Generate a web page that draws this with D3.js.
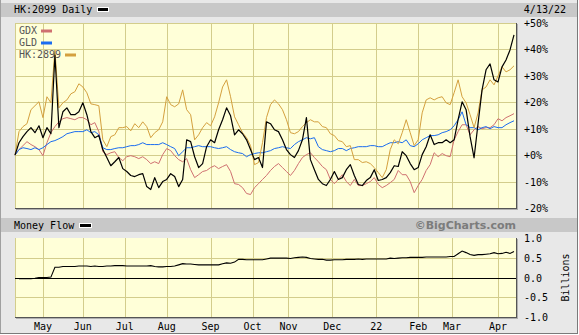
<!DOCTYPE html>
<html>
<head>
<meta charset="utf-8">
<script src="https://cdn.jsdelivr.net/npm/d3@7"></script>
<style>
  body { margin: 0; background: #ffffff; }
  text { font-family: "DejaVu Sans Mono", monospace; font-size: 10px; }
</style>
</head>
<body>
<div id="chart"></div>
<script>
// Trading day index for each sample (every 2nd session)
var days = d3.range(0, 251, 2);

// Month labels and the trading day they fall on
var monthLabels = ["May", "Jun", "Jul", "Aug", "Sep", "Oct", "Nov", "Dec", "22", "Feb", "Mar", "Apr"];
var monthDays = [14, 34, 55, 76, 98, 119, 137, 159, 181, 202, 219, 242];

var pctTicks = [50, 40, 30, 20, 10, 0, -10, -20];
var flowTicks = [1.0, 0.5, 0.0, -0.5, -1.0];

// % change, HK:2099
var hk2099 = [0, 4.7, 7, 8.9, 10.4, 8.5, 11.1, 6.6, 10.4, 8.1,
    37.9, 10.4, 16.4, 17.9, 15.3, 15.3, 16.4, 19.8, 15.3, 8.9,
    6.6, 7.4, 2.1, -0.9, -4, -2.5, -0.9, -5.1, -6.2, -7.7,
    -8.1, -7.4, -7, -11.9, -13, -8.5, -12.3, -10, -9.2, -7,
    -8.1, -11.9, -9.2, 5.8, 5.1, -0.6, -4.7, -3.2, 3.2, 5.8,
    4.7, 9.6, 13.4, 17.9, 14.9, 7.7, 9.6, 8.1, 5.8, 2.1,
    -1.7, -0.9, -4.7, 12.6, 11.9, 9.6, 8.9, 5.8, 2.1, 0.2,
    -0.9, 1.7, 5.8, 14.2, -1.7, -5.5, -9.2, -10.8, -11.5, -9.2,
    -6.2, -9.2, -8.5, -5.5, -3.6, -7.7, -11.1, -11.5, -9.6, -8.5,
    -5.5, -9.6, -9.2, -8.5, -6.6, -4, -4.3, 1.3, -0.2, -3.2,
    -5.5, -4.7, 0.2, 3.2, 7.7, 4, 4.7, 4.7, 5.8, 4.7,
    5.8, 13.4, 20.2, 17.2, 7, -1, 12, 24.7, 32.3, 34.5,
    28.5, 27.7, 33.4, 36, 39.8, 45.5];

// % change, GDX
var gdx = [0, 2.1, 3.6, 5.1, 4, 3.2, 2.1, -0.2, 4.7, 8.5,
    10.8, 12.6, 13.8, 14.2, 13.8, 13.4, 14.2, 14.2, 13.4, 11.5,
    12.3, 8.9, 1.3, 0.2, 0.9, 1.3, -0.9, -2.1, -0.6, -0.2,
    -0.6, -1.3, -0.6, -1.7, -3.2, -2.5, -3.2, 0.2, 2.5, 1.7,
    -0.2, -1.7, -2.5, -1.3, -5.5, -8.5, -7.4, -6.2, -5.8, -4.7,
    -4, -5.1, -4.3, -3.6, -6.2, -10.8, -11.1, -12.3, -14.5, -14.9,
    -12.3, -10.8, -9.2, -7.7, -5.8, -4.3, -3.2, -4.7, -6.2, -7.7,
    -5.8, -3.2, -0.9, 0.2, 0.9, -0.9, -2.5, -4.3, -5.5, -9.2,
    -10.8, -9.2, -7.4, -10, -11.5, -9.2, -11.5, -11.5, -10.8, -10,
    -8.5, -11.1, -12.3, -11.5, -10.4, -9.2, -5.8, -7.4, -7.4, -10,
    -14.2, -11.5, -9.2, -5.8, -3.6, 0.9, -0.6, 0.6, -0.2, -0.6,
    5.8, 8.9, 11.5, 11.5, 7.7, 9.6, 10.8, 10, 10.4, 10.4,
    11.5, 13.8, 13, 14.2, 14.9, 15.7];

// % change, GLD
var gld = [0, 2.1, 2.8, 2.5, 2.1, 2.8, 2.1, 2.8, 4, 5.1,
    5.5, 6.2, 7, 8.1, 8.5, 8.9, 8.9, 8.9, 9.6, 8.5,
    8.9, 7.7, 2.8, 2.1, 2.1, 2.5, 2.8, 2.8, 3.2, 3.6,
    3.6, 4, 4.7, 4, 4, 4, 4, 4.7, 4, 3.2,
    2.5, -0.2, 1.3, 2.8, 2.8, 3.2, 3.6, 3.2, 3.2, 3.2,
    2.8, 2.5, 2.8, 3.2, 2.1, 1.3, 0.9, 0.6, -0.6, 0.2,
    0.6, 0.9, 0.9, 1.3, 1.7, 2.5, 2.8, 3.2, 2.8, 2.5,
    4, 5.1, 5.8, 6.6, 6.2, 6.6, 3.2, 2.1, 1.7, 1.3,
    1.7, 2.5, 2.5, 1.7, 2.5, 2.8, 3.2, 3.2, 3.2, 3.6,
    3.6, 3.2, 3.2, 4, 4.7, 4.7, 5.1, 4.7, 5.8, 3.6,
    3.2, 4.3, 5.8, 6.6, 7.4, 7.4, 7.7, 8.5, 8.9, 9.6,
    11.1, 13.4, 16.4, 11.5, 10.4, 10.4, 9.6, 10.4, 10.8, 10,
    10.8, 10.4, 10.4, 11.5, 12.3, 13];

// % change, HK:2899
var hk2899 = [0, 8.9, 10.8, 11.9, 17.2, 18.7, 20.2, 14.2, 22.1, 19.8,
    39.8, 17.9, 19.8, 20.9, 23.2, 24, 27, 25.8, 23.6, 19.4,
    19.1, 18.7, 5.8, 3.2, 7, 7.7, 10.4, 10.4, 10.8, 9.2,
    11.9, 10.4, 12.6, 10.8, 6.6, 8.5, 9.6, 12.6, 22.1, 19.1,
    18.3, 19.4, 24.7, 17.2, 15.3, 5.8, 7.7, 10.4, 12.3, 11.1,
    14.5, 19.8, 25.8, 28.5, 22.1, 14.5, 11.5, 8.5, 6.6, 3.6,
    -3.6, -2.8, 4.7, 14.2, 19.1, 20.9, 19.4, 17.2, 13.4, 8.5,
    8.1, 8.9, 10.8, 12.3, 13.4, 12.6, 12.6, 10.8, 10.4, 8.1,
    7.4, 5.5, 5.1, 3.2, 3.6, -1.7, -1.7, -2.8, -2.5, -3.2,
    -4.7, -6.6, -8.5, -5.5, 2.1, 5.8, 4.3, 8.5, 13.4, 8.5,
    3.6, 5.8, 16, 20.9, 21.7, 20.9, 21.7, 22.1, 19.8, 19.1,
    23.6, 28.5, 22.1, 19.8, 15.3, 10.4, 16, 24.7, 25.8, 28.5,
    26.6, 30, 33.4, 31.5, 32.3, 33.8];

// Money flow, billions
var moneyFlow = [null, -0.03, -0.03, -0.03, -0.03, -0.02, 0, 0, 0, 0.01,
    0.26, 0.26, 0.28, 0.28, 0.28, 0.28, 0.29, 0.29, 0.29, 0.28,
    0.29, 0.28, 0.28, 0.29, 0.29, 0.3, 0.3, 0.3, 0.29, 0.29,
    0.29, 0.29, 0.29, 0.29, 0.3, 0.28, 0.27, 0.27, 0.28, 0.28,
    0.29, 0.32, 0.35, 0.34, 0.34, 0.33, 0.32, 0.32, 0.32, 0.32,
    0.32, 0.32, 0.35, 0.37, 0.36, 0.39, 0.46, 0.46, 0.45, 0.45,
    0.45, 0.45, 0.45, 0.47, 0.49, 0.49, 0.49, 0.49, 0.49, 0.48,
    0.5, 0.51, 0.52, 0.51, 0.48, 0.47, 0.46, 0.46, 0.44, 0.44,
    0.45, 0.45, 0.45, 0.46, 0.46, 0.46, 0.47, 0.46, 0.47, 0.47,
    0.47, 0.47, 0.47, 0.47, 0.49, 0.48, 0.49, 0.5, 0.5, 0.51,
    0.51, 0.51, 0.51, 0.52, 0.52, 0.52, 0.52, 0.52, 0.52, 0.53,
    0.53, 0.6, 0.67, 0.63, 0.58, 0.56, 0.58, 0.58, 0.59, 0.6,
    0.63, 0.6, 0.61, 0.64, 0.61, 0.66];

var series = [
    { name: "GDX", values: gdx, color: "#cf7070", width: 1 },
    { name: "GLD", values: gld, color: "#1a6cf0", width: 1 },
    { name: "HK:2899", values: hk2899, color: "#d4a03e", width: 1 },
    { name: "HK:2099", values: hk2099, color: "#000000", width: 1.2 }
];

var width = 579, height = 335;
var plotLeft = 15, plotRight = 516;
var top1 = 23, bottom1 = 208;
var top2 = 238, bottom2 = 317;
var gridColor = "#d3cd8c";
var plotFill = "#ffffd8";

var svg = d3.select("#chart").append("svg")
    .attr("width", width)
    .attr("height", height);

// frame
svg.append("rect").attr("x", 0).attr("y", 0).attr("width", 578).attr("height", 334).attr("fill", "#e8e8e8");
svg.append("line").attr("x1", 0.5).attr("x2", 0.5).attr("y1", 0).attr("y2", 334).attr("stroke", "#a0a0a0");
svg.append("line").attr("x1", 577.5).attr("x2", 577.5).attr("y1", 0).attr("y2", 334).attr("stroke", "#7a7a7a");
svg.append("line").attr("x1", 0).attr("x2", 578).attr("y1", 333.5).attr("y2", 333.5).attr("stroke", "#7a7a7a");

// header bars
svg.append("rect").attr("x", 1).attr("y", 3).attr("width", 576).attr("height", 14).attr("fill", "#c8c8c8");
svg.append("rect").attr("x", 1).attr("y", 218).attr("width", 576).attr("height", 14).attr("fill", "#c8c8c8");

svg.append("text").attr("x", 14).attr("y", 13).text("HK:2099 Daily");
svg.append("rect").attr("x", 97.5).attr("y", 7.5).attr("width", 11).attr("height", 4)
    .attr("fill", "#000").attr("stroke", "#fff");
svg.append("text").attr("x", 566).attr("y", 13).attr("text-anchor", "end").text("4/13/22");

svg.append("text").attr("x", 14).attr("y", 229).text("Money Flow");
svg.append("rect").attr("x", 79.5).attr("y", 223.5).attr("width", 12).attr("height", 4)
    .attr("fill", "#000").attr("stroke", "#fff");
svg.append("text").attr("x", 516).attr("y", 229).attr("text-anchor", "end")
    .style("font-family", "'DejaVu Sans', sans-serif").style("font-weight", "bold")
    .style("font-size", "11px").attr("fill", "#7c7c7c").text("\u00A9BigCharts.com");

// scales
var x = d3.scaleLinear().domain([0, 250]).range([plotLeft, 514]);
var y1 = d3.scaleLinear().domain([-20, 50]).range([bottom1, top1]);
var y2 = d3.scaleLinear().domain([-1, 1]).range([bottom2, top2]);

function drawPanel(top, bottom, yScale, ticks) {
    var g = svg.append("g");
    g.append("rect").attr("x", plotLeft).attr("y", top)
        .attr("width", plotRight - plotLeft).attr("height", bottom - top).attr("fill", plotFill);
    // horizontal grid
    g.selectAll(".hg").data(ticks).enter().append("line")
        .attr("x1", plotLeft).attr("x2", plotRight)
        .attr("y1", d => Math.round(yScale(d)) + 0.5).attr("y2", d => Math.round(yScale(d)) + 0.5)
        .attr("stroke", gridColor);
    // vertical grid
    g.selectAll(".vg").data(monthDays).enter().append("line")
        .attr("x1", d => Math.round(x(d)) + 0.5).attr("x2", d => Math.round(x(d)) + 0.5)
        .attr("y1", top).attr("y2", bottom)
        .attr("stroke", gridColor);
    // left edge
    g.append("line").attr("x1", plotLeft + 0.5).attr("x2", plotLeft + 0.5)
        .attr("y1", top).attr("y2", bottom).attr("stroke", gridColor);
    return g;
}

function drawFrame(top, bottom) {
    svg.append("line").attr("x1", plotLeft).attr("x2", plotRight + 1)
        .attr("y1", bottom + 0.5).attr("y2", bottom + 0.5).attr("stroke", "#555");
    svg.append("line").attr("x1", plotRight + 0.5).attr("x2", plotRight + 0.5)
        .attr("y1", top).attr("y2", bottom + 1).attr("stroke", "#555");
    svg.append("line").attr("x1", plotLeft + 1).attr("x2", plotRight + 2)
        .attr("y1", bottom + 1.5).attr("y2", bottom + 1.5).attr("stroke", "#b0b0b0");
    svg.append("line").attr("x1", plotRight + 1.5).attr("x2", plotRight + 1.5)
        .attr("y1", top + 1).attr("y2", bottom + 2).attr("stroke", "#b0b0b0");
}

// price panel
var g1 = drawPanel(top1, bottom1, y1, pctTicks);

var line1 = d3.line()
    .x((d, i) => x(days[i]))
    .y(d => y1(d));

series.forEach(function (s) {
    g1.append("path")
        .datum(s.values)
        .attr("d", line1)
        .attr("fill", "none")
        .attr("stroke", s.color)
        .attr("stroke-width", s.width)
        .attr("stroke-linejoin", "round");
});
drawFrame(top1, bottom1);

// legend
var legend = series.slice(0, 3);
var legendX = [41, 41, 65];
legend.forEach(function (s, i) {
    var by = 34 + i * 12;
    svg.append("text").attr("x", 19).attr("y", by).attr("fill", "#555").text(s.name);
    svg.append("rect").attr("x", legendX[i]).attr("y", by - 4.5)
        .attr("width", 11).attr("height", 3).attr("fill", s.color);
});

// y axis labels, percent
svg.selectAll(".pl").data(pctTicks).enter().append("text")
    .attr("x", 524).attr("y", d => y1(d) + 4)
    .text(d => (d >= 0 ? "+" : "") + d + "%");

// money flow panel
var g2 = drawPanel(top2, bottom2, y2, [0.5, -0.5]);
g2.append("line").attr("x1", plotLeft).attr("x2", plotRight)
    .attr("y1", Math.round(y2(0)) + 0.5).attr("y2", Math.round(y2(0)) + 0.5)
    .attr("stroke", "#000").attr("stroke-width", 1.2);

var line2 = d3.line()
    .defined(d => d !== null)
    .x((d, i) => x(days[i]))
    .y(d => y2(d));

g2.append("path")
    .datum(moneyFlow)
    .attr("d", line2)
    .attr("fill", "none")
    .attr("stroke", "#000")
    .attr("stroke-width", 1.1);
drawFrame(top2, bottom2);

svg.selectAll(".fl").data(flowTicks).enter().append("text")
    .attr("x", 524).attr("y", d => y2(d) + 4)
    .text(d => d3.format(".1f")(d).replace("\u2212", "-"));

svg.append("text")
    .attr("transform", "translate(569," + ((top2 + bottom2) / 2) + ") rotate(-90)")
    .attr("text-anchor", "middle")
    .text("Billions");

// month labels
svg.selectAll(".ml").data(monthDays).enter().append("text")
    .attr("x", d => x(d))
    .attr("y", 330)
    .attr("text-anchor", "middle")
    .text((d, i) => monthLabels[i]);
</script>
</body>
</html>
